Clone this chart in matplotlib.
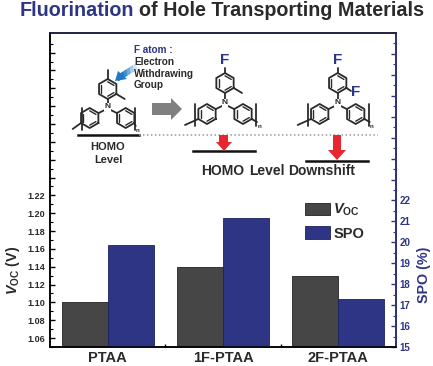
## Voc / SPO bars with the fluorination schematic on top

import numpy as np
import matplotlib
matplotlib.use('Agg')
import matplotlib.pyplot as plt
from matplotlib.patches import Polygon

plt.rcParams['font.family'] = ['Liberation Sans', 'DejaVu Sans']
plt.rcParams['font.weight'] = 'bold'
plt.rcParams['mathtext.fontset'] = 'custom'
plt.rcParams['mathtext.rm'] = 'Liberation Sans'
plt.rcParams['mathtext.it'] = 'Liberation Sans:italic:bold'
plt.rcParams['mathtext.bf'] = 'Liberation Sans:bold'

materials = ['PTAA', '1F-PTAA', '2F-PTAA']
voc = [1.10, 1.14, 1.13]
spo = [19.89, 21.18, 17.30]
voc_ticks = [1.06, 1.08, 1.10, 1.12, 1.14, 1.16, 1.18, 1.20, 1.22]
spo_ticks = [15, 16, 17, 18, 19, 20, 21, 22]

GREY = '#464646'
NAVY = '#2e3584'
TEXT = '#2a2a2a'
W, H = 433, 366

fig = plt.figure(figsize=(W / 100, H / 100), dpi=100)
left, right, top, bottom = 50, 396, 33, 347
ax = fig.add_axes([left / W, 1 - bottom / H, (right - left) / W, (bottom - top) / H])
ax2 = ax.twinx()

x = np.arange(1, 4)
b1 = ax.bar(x - 0.2, voc, 0.4, color=GREY, edgecolor='#222222', linewidth=0.6)
b2 = ax2.bar(x + 0.2, spo, 0.4, color=NAVY, edgecolor='#1c2260', linewidth=0.6)

ax.set_xlim(0.5, 3.5)
ax.set_ylim(1.05, 1.402)
ax2.set_ylim(15, 30)

ax.set_xticks(x)
ax.set_xticklabels(materials, fontsize=10.5, color=TEXT)
ax.tick_params(axis='x', which='major', length=0, pad=3)
ax.set_xticks([1.5, 2.5], minor=True)
ax.tick_params(axis='x', which='minor', direction='in', length=2, width=1)

# ticks carry on to the top but only the lower ones have labels
ax.set_yticks(np.arange(1.06, 1.40, 0.02))
ax.set_yticklabels(['%.2f' % v if i < len(voc_ticks) else '' for i, v in enumerate(np.arange(1.06, 1.40, 0.02))],
                   fontsize=6.5, color=TEXT)
ax.set_yticks(np.arange(1.05, 1.40, 0.02), minor=True)
ax.tick_params(axis='y', which='major', direction='in', length=3.5, width=1, pad=3.5)
ax.tick_params(axis='y', which='minor', direction='in', length=2, width=0.8)

ax2.set_yticks(np.arange(15, 30))
ax2.set_yticklabels([str(v) if v in spo_ticks else '' for v in range(15, 30)], fontsize=7, color=NAVY)
ax2.set_yticks(np.arange(15.5, 30, 1), minor=True)
ax2.tick_params(axis='y', which='major', direction='in', length=3.5, width=1, color=NAVY, pad=2.5)
ax2.tick_params(axis='y', which='minor', direction='in', length=2, width=0.8, color=NAVY)

for a in (ax, ax2):
    for s in a.spines.values():
        s.set_linewidth(1.1)
ax2.spines['right'].set_color(NAVY)
ax2.spines['top'].set_color('#20244a')

ax.set_ylabel(r'$\mathit{V}_{\mathrm{OC}}$ (V)', fontsize=10.3, fontweight='bold', color=TEXT)
ax.yaxis.set_label_coords(-0.082, 0.245)
ax2.set_ylabel('SPO (%)', fontsize=10.3, fontweight='bold', color=NAVY, rotation=90)
ax2.yaxis.set_label_coords(1.061, 0.229)

ax2.legend([b1, b2], [r'$\mathit{V}_{\mathrm{OC}}$', 'SPO'], loc='upper left',
           bbox_to_anchor=(0.737, 0.462), frameon=False, fontsize=10.5, labelcolor=TEXT,
           handlelength=1.7, handleheight=0.95, handletextpad=0.25, labelspacing=0.55,
           borderpad=0, borderaxespad=0)

# schematic layer, in pixel coordinates of the picture
ov = fig.add_axes([0, 0, 1, 1])
ov.set_xlim(0, W)
ov.set_ylim(H, 0)
ov.axis('off')
ov.patch.set_alpha(0)


def seg(x0, y0, x1, y1, lw=1.3, c='#2a2a2a'):
    ov.plot([x0, x1], [y0, y1], color=c, lw=lw, solid_capstyle='round')


def ring(cx, cy, r=10):
    ang = np.radians(np.arange(30, 390, 60))
    px = cx + r * np.cos(ang)
    py = cy + r * np.sin(ang)
    ov.plot(np.append(px, px[0]), np.append(py, py[0]), color='#2a2a2a', lw=1.3)
    for i in (0, 2, 4):
        j = i + 1
        seg(cx + 0.72 * (px[i] - cx), cy + 0.72 * (py[i] - cy),
            cx + 0.72 * (px[j] - cx), cy + 0.72 * (py[j] - cy), 1.0)


def molecule(nx, ny, lb, rb, up, top_len, methyl, tail):
    ov.text(nx, ny, 'N', fontsize=6, ha='center', va='center', color='#2a2a2a',
            bbox=dict(fc='white', ec='none', pad=0.3), zorder=5)
    ring(nx, ny - up)
    seg(nx, ny - 4, nx, ny - up + 10)
    seg(nx, ny - up - 10, nx, ny - up - 10 - top_len)
    if methyl:
        seg(nx + 8.7, ny - up + 5, nx + 17, ny - up + 10)
    ring(nx - 18, ny + 11)
    ring(nx + 18, ny + 11)
    seg(nx - 3, ny + 3, nx - 9, ny + 6)
    seg(nx + 3, ny + 3, nx + 9, ny + 6)
    seg(nx - lb, ny + 1, nx - lb, ny + 23)
    seg(nx + rb, ny + 1, nx + rb, ny + 23)
    seg(nx - 26.7, ny + 16, nx - tail, ny + 22)
    seg(nx + 26.7, ny + 16, nx + rb + 1, ny + 19)
    ov.text(nx + rb + 3, ny + 23.5, 'n', fontsize=4.5, ha='center', va='center', color='#2a2a2a')


molecule(107.7, 107, 26, 27, 18, 9, True, 35)
molecule(225, 103, 30, 31, 20, 5, True, 40)
molecule(337.7, 103, 30, 31, 20, 5, False, 40)
seg(346.5, 88, 351, 91)

# title
ov.text(20, 10.5, 'Fluorination', fontsize=14.2, color=NAVY, ha='left', va='center')
ov.text(139, 10.5, 'of Hole Transporting Materials', fontsize=14.2, color=TEXT, ha='left', va='center')

# text of the schematic
ov.text(134, 50, 'F atom :', fontsize=7.2, color=NAVY, va='center')
ov.text(134, 62, 'Electron', fontsize=7.2, color=TEXT, va='center')
ov.text(134, 74, 'Withdrawing', fontsize=7.2, color=TEXT, va='center')
ov.text(134, 85.5, 'Group', fontsize=7.2, color=TEXT, va='center')
ov.text(225, 60.5, 'F', fontsize=11, color=NAVY, ha='center', va='center')
ov.text(337.7, 60.5, 'F', fontsize=11, color=NAVY, ha='center', va='center')
ov.text(356, 92, 'F', fontsize=11, color=NAVY, ha='center', va='center')
ov.text(108, 146.5, 'HOMO', fontsize=8, color=TEXT, ha='center', va='center')
ov.text(108, 160, 'Level', fontsize=8, color=TEXT, ha='center', va='center')
ov.text(201, 171, 'HOMO', fontsize=10, color=TEXT, va='center')
ov.text(249, 171, 'Level', fontsize=10, color=TEXT, va='center')
ov.text(288, 171, 'Downshift', fontsize=10, color=TEXT, va='center')

# energy levels
ov.plot([78, 139], [135, 135], color='#111111', lw=1.8)
ov.plot([139, 378], [135, 135], color='#999999', lw=1.1, ls=(0, (1, 1.6)))
ov.plot([193, 255], [151, 151], color='#111111', lw=1.8)
ov.plot([306, 368], [160.5, 160.5], color='#111111', lw=1.8)

# arrows
ov.add_patch(Polygon([(152, 103), (171, 103), (171, 98), (182, 109), (171, 120), (171, 115), (152, 115)],
                     fc='#808080', ec='none'))
ov.add_patch(Polygon([(219, 135), (228, 135), (228, 142), (232, 142), (224, 151), (216, 142), (219, 142)],
                     fc='#e8262e', ec='none', zorder=3))
ov.add_patch(Polygon([(333, 135), (341, 135), (341, 150), (346, 150), (337, 160), (328, 150), (333, 150)],
                     fc='#e8262e', ec='none', zorder=3))

# blue arrow fades out towards its tail
for i, c in enumerate(['#d4e6f5', '#a5cbea', '#6fabdc', '#3f8dcf', '#2079c4']):
    x0, y0 = 136 - 3.2 * i, 66 + 2.1 * i
    ov.add_patch(Polygon([(x0, y0 - 3), (x0 + 1, y0 + 3.5), (x0 - 5, y0 + 7), (x0 - 6, y0 + 1)], fc=c, ec='none'))
ov.add_patch(Polygon([(115, 81), (118, 71), (127, 79)], fc='#2079c4', ec='none'))

fig.savefig('out.png', dpi=100)
